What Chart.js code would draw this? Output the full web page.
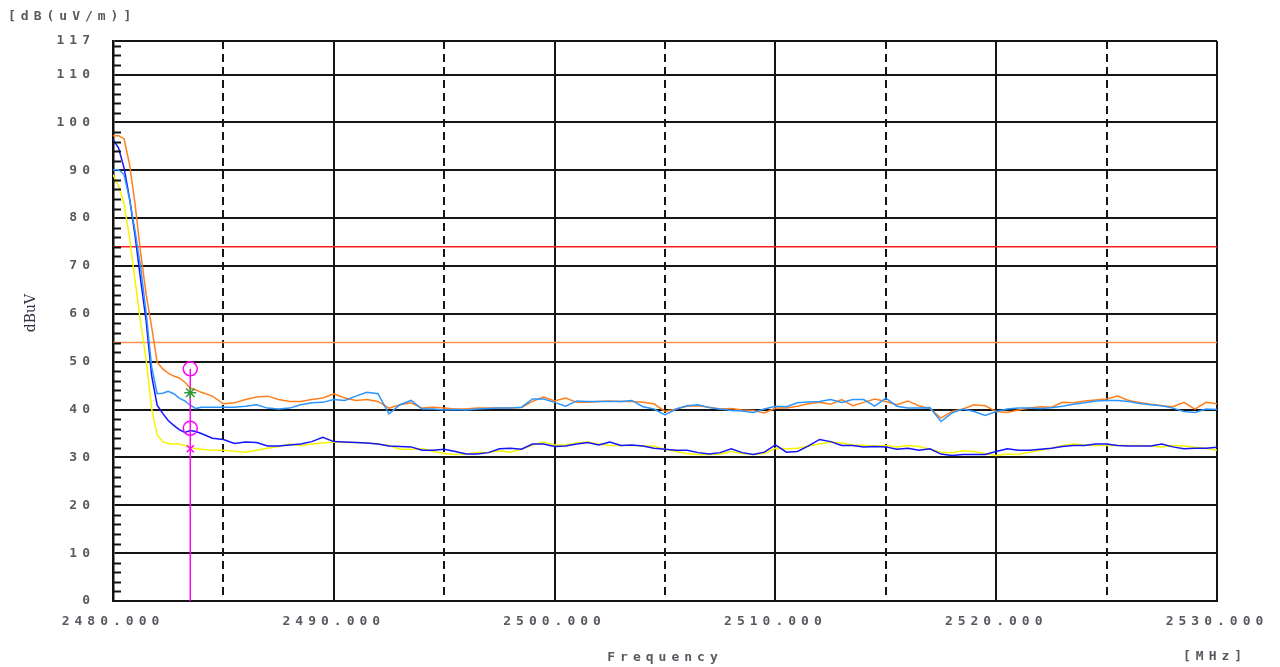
<!DOCTYPE html>
<html>
<head>
<meta charset="utf-8">
<title>Band edge scan</title>
<script src="https://cdn.jsdelivr.net/npm/chart.js@4.4.1/dist/chart.umd.min.js"></script>
<style>
    html, body { margin: 0; padding: 0; background: #fff; }
    #wrap { width: 1280px; height: 667px; }
</style>
</head>
<body>
<div id="wrap"><canvas id="scan" width="1280" height="667"></canvas></div>
<script>
// --- DATA ---
// Frequency grid in MHz (fine steps over the roll-off, 0.5 MHz after that)
const freqs = [
    2480, 2480.25, 2480.5, 2480.75, 2481, 2481.25, 2481.5, 2481.75,
    2482, 2482.25, 2482.5, 2482.75, 2483, 2483.25, 2483.5, 2483.75,
    2484, 2484.5, 2485, 2485.5, 2486, 2486.5, 2487, 2487.5, 2488, 2488.5, 2489, 2489.5,
    2490, 2490.5, 2491, 2491.5, 2492, 2492.5, 2493, 2493.5, 2494, 2494.5, 2495, 2495.5,
    2496, 2496.5, 2497, 2497.5, 2498, 2498.5, 2499, 2499.5, 2500, 2500.5, 2501, 2501.5,
    2502, 2502.5, 2503, 2503.5, 2504, 2504.5, 2505, 2505.5, 2506, 2506.5, 2507, 2507.5,
    2508, 2508.5, 2509, 2509.5, 2510, 2510.5, 2511, 2511.5, 2512, 2512.5, 2513, 2513.5,
    2514, 2514.5, 2515, 2515.5, 2516, 2516.5, 2517, 2517.5, 2518, 2518.5, 2519, 2519.5,
    2520, 2520.5, 2521, 2521.5, 2522, 2522.5, 2523, 2523.5, 2524, 2524.5, 2525, 2525.5,
    2526, 2526.5, 2527, 2527.5, 2528, 2528.5, 2529, 2529.5, 2530
];

// Peak, horizontal (orange)
const peakH = [
    97.2, 97.2, 96.6, 91.2, 82.9, 72.8, 64.1, 57.2, 49.9, 48.5, 47.6, 47.0, 46.6, 45.7, 44.5, 44.1,
    43.6, 42.8, 41.2, 41.4, 42.1, 42.6, 42.8, 42.1, 41.7, 41.7, 42.1, 42.4,
    43.3, 42.4, 41.9, 42.1, 41.7, 40.3, 41.0, 41.4, 40.3, 40.5, 40.3, 40.1,
    40.1, 40.3, 40.3, 40.3, 40.3, 40.4, 41.7, 42.6, 41.8, 42.4, 41.5, 41.5,
    41.7, 41.8, 41.7, 41.7, 41.5, 41.2, 39.6, 40.1, 40.7, 40.8, 40.5, 40.1,
    40.2, 39.9, 39.8, 39.3, 40.3, 40.3, 40.7, 41.2, 41.5, 41.1, 42.1, 40.8,
    41.5, 42.2, 41.7, 41.0, 41.8, 40.8, 40.2, 38.2, 39.6, 40.1, 41.0, 40.8,
    39.6, 39.4, 39.9, 40.3, 40.6, 40.5, 41.5, 41.4, 41.8, 42.0, 42.2, 42.8,
    41.9, 41.5, 41.1, 40.8, 40.6, 41.5, 40.1, 41.5, 41.2
];

// Peak, vertical (light blue)
const peakV = [
    90.1, 90.1, 89.1, 83.9, 77.3, 69.7, 60.3, 48.9, 43.3, 43.4, 43.8, 43.3, 42.4, 41.8, 40.9, 40.2,
    40.5, 40.5, 40.5, 40.5, 40.7, 41.0, 40.3, 40.1, 40.3, 41.0, 41.4, 41.5,
    42.1, 41.9, 42.8, 43.6, 43.3, 39.1, 41.0, 41.9, 40.1, 40.1, 39.9, 40.0,
    39.9, 40.1, 40.2, 40.3, 40.3, 40.5, 42.2, 42.2, 41.5, 40.7, 41.8, 41.7,
    41.7, 41.7, 41.7, 41.9, 40.6, 40.1, 38.9, 40.1, 40.8, 41.0, 40.4, 40.1,
    39.8, 39.7, 39.4, 40.1, 40.7, 40.6, 41.4, 41.6, 41.7, 42.1, 41.5, 42.1,
    42.1, 40.7, 42.4, 40.7, 40.3, 40.3, 40.4, 37.5, 39.3, 40.1, 39.6, 38.75,
    39.6, 40.1, 40.3, 40.3, 40.2, 40.4, 40.7, 41.1, 41.4, 41.8, 41.9, 41.9,
    41.7, 41.25, 41.0, 40.8, 40.3, 39.6, 39.4, 40.1, 40.0
];

// Average, horizontal (blue)
const avgH = [
    96.4, 94.7, 90.5, 84.1, 76.3, 67.2, 58.5, 47.1, 40.9, 39.2, 37.7, 36.7, 35.8, 35.2, 35.6, 35.4,
    35.0, 34.0, 33.75, 32.9, 33.2, 33.1, 32.4, 32.4, 32.6, 32.8, 33.3, 34.2,
    33.3, 33.2, 33.1, 33.0, 32.8, 32.4, 32.3, 32.2, 31.5, 31.5, 31.7, 31.25,
    30.7, 30.7, 31.0, 31.8, 31.9, 31.7, 32.8, 32.8, 32.3, 32.4, 32.8, 33.1,
    32.6, 33.2, 32.5, 32.6, 32.4, 31.9, 31.7, 31.5, 31.5, 31.0, 30.7, 31.0,
    31.8, 31.0, 30.6, 31.1, 32.6, 31.1, 31.25, 32.4, 33.75, 33.3, 32.5, 32.5,
    32.2, 32.3, 32.2, 31.7, 31.9, 31.5, 31.8, 30.7, 30.4, 30.6, 30.6, 30.6,
    31.25, 31.8, 31.5, 31.5, 31.7, 31.9, 32.3, 32.5, 32.5, 32.8, 32.8, 32.5,
    32.4, 32.4, 32.4, 32.8, 32.2, 31.8, 31.9, 31.9, 32.1
];

// Average, vertical (yellow)
const avgV = [
    89.1, 86.7, 83.0, 75.9, 66.9, 58.2, 50.6, 40.2, 34.7, 33.3, 32.9, 32.8, 32.8, 32.5, 32.1, 31.8,
    31.7, 31.5, 31.5, 31.3, 31.1, 31.5, 31.9, 32.3, 32.8, 32.5, 32.8, 33.0,
    33.2, 33.1, 33.1, 33.0, 32.8, 32.5, 31.7, 31.7, 31.8, 31.3, 30.8, 30.6,
    30.7, 31.0, 31.0, 31.4, 31.1, 31.7, 32.6, 33.2, 32.6, 32.6, 33.0, 33.2,
    32.8, 32.5, 32.5, 32.5, 32.4, 32.4, 31.7, 31.25, 30.8, 30.6, 30.6, 30.7,
    31.25, 30.8, 30.6, 30.8, 31.9, 31.8, 31.9, 32.4, 32.8, 33.2, 33.0, 32.6,
    32.5, 32.4, 32.5, 32.2, 32.5, 32.3, 31.7, 31.1, 31.0, 31.4, 31.25, 30.8,
    30.4, 30.7, 30.6, 31.1, 31.5, 31.9, 32.5, 32.8, 32.6, 32.5, 32.5, 32.5,
    32.5, 32.5, 32.4, 32.2, 32.5, 32.4, 32.1, 31.9, 31.5
];

// Limit lines (dBuV/m)
const limitPeak = 74;
const limitAvg = 54;

// Band edge marker and its readings
const markerFreq = 2483.5;
const markerLevels = [48.5, 43.5, 36.1, 31.8];

// Axes
const freqRange = [2480, 2530];
const freqTicks = [2480, 2485, 2490, 2495, 2500, 2505, 2510, 2515, 2520, 2525, 2530];
const levelTicks = [0, 10, 20, 30, 40, 50, 60, 70, 80, 90, 100, 110, 117];

// --- HELPERS ---
const pts = (ys) => freqs.map((f, i) => ({ x: f, y: ys[i] }));
const hline = (v) => [{ x: freqRange[0], y: v }, { x: freqRange[1], y: v }];
const trace = (label, ys, color) => ({
    label, data: pts(ys), borderColor: color, borderWidth: 1.5,
    pointRadius: 0, tension: 0, fill: false
});

const SPACED_FONT = '"DejaVu Sans Mono", "Liberation Mono", monospace';
const TEXT_COLOR = '#5a5860';

// Spaced lettering + minor ticks + unit captions
const scanDecor = {
    id: 'scanDecor',
    beforeDraw(chart) {
        chart.ctx.letterSpacing = '5px';
    },
    afterDraw(chart) {
        const { ctx, chartArea, scales } = chart;
        const y = scales.y;

        // minor ticks on the level axis, every 2 dB, pointing inwards
        ctx.save();
        ctx.strokeStyle = '#111';
        ctx.lineWidth = 2;
        for (let v = 2; v < 117; v += 2) {
            if (v % 10 === 0) continue;
            const py = Math.round(y.getPixelForValue(v)) + 0.5;
            ctx.beginPath();
            ctx.moveTo(chartArea.left, py);
            ctx.lineTo(chartArea.left + 8, py);
            ctx.stroke();
        }
        ctx.restore();

        ctx.save();
        ctx.fillStyle = TEXT_COLOR;
        ctx.font = 'bold 13px ' + SPACED_FONT;
        ctx.textBaseline = 'middle';
        ctx.textAlign = 'left';
        ctx.fillText('[dB(uV/m)]', 8, 17);
        ctx.fillText('[MHz]', 1183, 657);

        ctx.letterSpacing = '0px';
        ctx.fillStyle = '#33334a';
        ctx.font = '14px "DejaVu Serif", serif';
        ctx.translate(31, (chartArea.top + chartArea.bottom) / 2 - 8);
        ctx.rotate(-Math.PI / 2);
        ctx.textAlign = 'center';
        ctx.fillText('dBuV', 0, 0);
        ctx.restore();

        ctx.letterSpacing = '0px';
    }
};

// --- CHART ---
new Chart(document.getElementById('scan'), {
    type: 'line',
    data: {
        datasets: [
            {
                label: 'markers',
                data: markerLevels.map(v => ({ x: markerFreq, y: v })),
                showLine: false,
                pointStyle: ['circle', 'star', 'circle', 'crossRot'],
                pointRadius: [7, 6, 7, 5],
                pointBorderColor: ['#ff00ff', '#2e9a3a', '#ff00ff', '#ff00ff'],
                pointBackgroundColor: 'rgba(0,0,0,0)',
                pointBorderWidth: 1.5
            },
            {
                label: 'marker line',
                data: [{ x: markerFreq, y: 0 }, { x: markerFreq, y: markerLevels[0] }],
                borderColor: '#ff00ff', borderWidth: 1.5, pointRadius: 0
            },
            trace('Peak V', peakV, '#2b95ff'),
            trace('Peak H', peakH, '#ff7f1e'),
            trace('AV H', avgH, '#1414ff'),
            trace('AV V', avgV, '#f5f500'),
            { label: 'Limit PK', data: hline(limitPeak), borderColor: '#ff1a1a', borderWidth: 1.5, pointRadius: 0 },
            { label: 'Limit AV', data: hline(limitAvg), borderColor: '#ff9250', borderWidth: 1.5, pointRadius: 0 }
        ]
    },
    options: {
        responsive: false,
        animation: false,
        layout: { padding: { top: 41, right: 63, left: 0, bottom: 0 } },
        plugins: { legend: { display: false }, tooltip: { enabled: false } },
        scales: {
            x: {
                type: 'linear',
                min: freqRange[0], max: freqRange[1],
                afterBuildTicks: (s) => { s.ticks = freqTicks.map(v => ({ value: v })); },
                afterFit: (s) => { s.height = 66; },
                grid: { color: '#151515', lineWidth: 2, drawTicks: false },
                border: {
                    display: true, color: '#151515', width: 2,
                    dash: (ctx) => (ctx.tick && ctx.tick.value % 10 !== 0) ? [8, 5] : []
                },
                ticks: {
                    padding: 13, color: TEXT_COLOR, maxRotation: 0, autoSkip: false,
                    font: { family: SPACED_FONT, size: 13, weight: 'bold' },
                    callback: (v) => v % 10 === 0 ? v.toFixed(3) : ''
                },
                title: {
                    display: true, text: 'Frequency', color: TEXT_COLOR,
                    font: { family: SPACED_FONT, size: 13, weight: 'bold' },
                    padding: { top: 0, bottom: 2 }
                }
            },
            y: {
                min: 0, max: 117,
                afterBuildTicks: (s) => { s.ticks = levelTicks.map(v => ({ value: v })); },
                afterFit: (s) => { s.width = 113; },
                grid: { color: '#151515', lineWidth: 2, drawTicks: false },
                border: { display: true, color: '#111', width: 2.5 },
                ticks: {
                    padding: 18, color: TEXT_COLOR, autoSkip: false,
                    font: { family: SPACED_FONT, size: 13, weight: 'bold' }
                }
            }
        }
    },
    plugins: [scanDecor]
});
</script>
</body>
</html>
